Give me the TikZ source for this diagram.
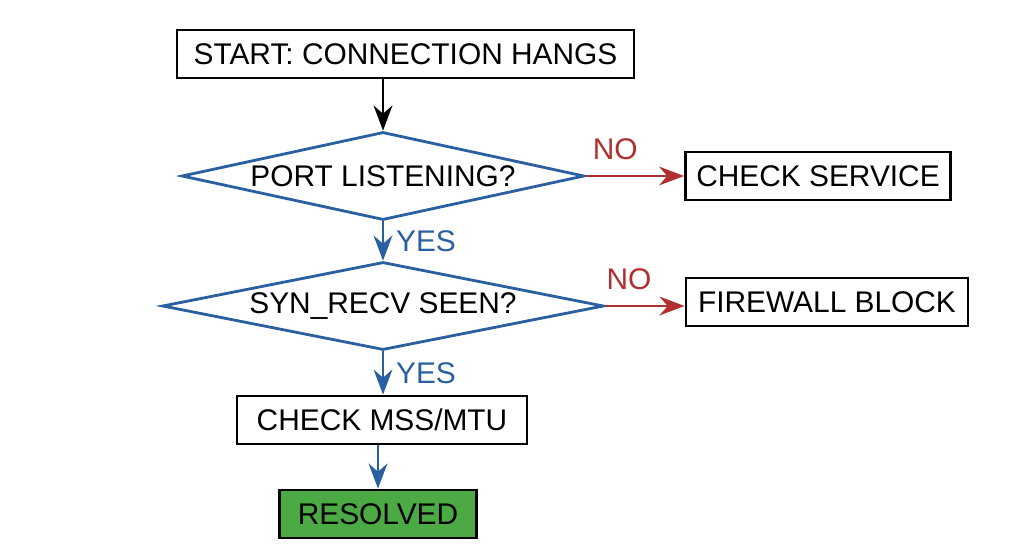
\documentclass[tikz,border=0pt]{standalone}
\usepackage{fontspec}
\setmainfont{Liberation Sans}
\usetikzlibrary{shapes.geometric,arrows.meta}
\definecolor{flowblue}{HTML}{2A5FA0}
\definecolor{flowred}{HTML}{B03030}
\definecolor{flowgreen}{HTML}{4CAA45}
\tikzset{ box/.style = { rectangle
                       , draw
                       , thick
                       , inner sep    = 0pt
                       , minimum height = 4.8mm
                       , font = \fontsize{8.5}{10}\selectfont
                       },
          q/.style = { diamond
                     , draw = flowblue
                     , thick
                     , shape aspect = 6.5
                     , inner sep    = 0pt
                     , minimum width  = 37.7mm
                     , minimum height = 8.8mm
                     , font = \fontsize{8.5}{10}\selectfont
                     },
          yes/.style = { draw = flowblue, thick, -{Stealth[length=2.5mm]} },
          no/.style  = { draw = flowred, thick, -{Stealth[length=2.5mm]} }
        }
\begin{document}
\begin{tikzpicture}
    \useasboundingbox (0,0) rectangle (10.24,5.59);
    \node[box, minimum width=45.7mm] (start) at (4.055,5.05) {START: CONNECTION HANGS};
    \node[q] (port) at (3.83,3.83) {PORT LISTENING?};
    \node[box, minimum width=26.5mm] (svc) at (8.18,3.83) {CHECK SERVICE};
    \node[q] (syn) at (3.83,2.53) {SYN\_RECV SEEN?};
    \node[box, minimum width=28.2mm] (fw) at (8.27,2.57) {FIREWALL BLOCK};
    \node[box, minimum width=29mm] (mss) at (3.82,1.39) {CHECK MSS/MTU};
    \node[box, minimum width=19.7mm, fill=flowgreen] (ok) at (3.78,0.45) {RESOLVED};
    % arrows
    \draw[thick, -{Stealth[length=2.5mm]}] (start.south -| port) -- (port.north);
    \draw[yes] (port) -- node[right, text=flowblue, font=\fontsize{8.5}{10}\selectfont] {YES} (syn);
    \draw[yes] (syn.south) -- node[right, text=flowblue, font=\fontsize{8.5}{10}\selectfont] {YES} (syn.south |- mss.north);
    \draw[yes] (mss.south -| ok) -- (ok);
    \draw[no] (port.east) -- node[pos=0.3, above=1pt, text=flowred, font=\fontsize{8.5}{10}\selectfont] {NO} (svc.west);
    \draw[no] (syn.east) -- node[pos=0.3, above=1pt, text=flowred, font=\fontsize{8.5}{10}\selectfont] {NO} (syn.east -| fw.west);
\end{tikzpicture}
\end{document}
